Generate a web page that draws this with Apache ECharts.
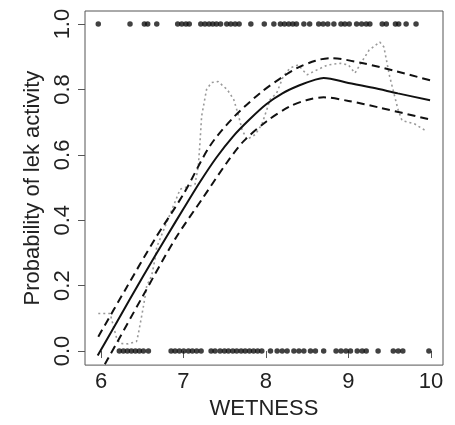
<!DOCTYPE html>
<html>
<head>
<meta charset="utf-8">
<script src="https://cdn.jsdelivr.net/npm/echarts@6/dist/echarts.min.js"></script>
<style>
html,body{margin:0;padding:0;background:#fff;}
#c{width:455px;height:425px;}
</style>
</head>
<body>
<div id="c"></div>
<script>
// Observed WETNESS values of active leks (y = 1)
var activeX = [5.967, 6.352, 6.526, 6.566, 6.676, 6.93, 6.98, 7.03, 7.07, 7.21, 7.26, 7.31, 7.355, 7.40, 7.45,
  7.525, 7.574, 7.626, 7.675, 7.817, 7.98, 8.096, 8.176, 8.225, 8.277, 8.326, 8.37, 8.46, 8.53, 8.64, 8.694,
  8.75, 8.824, 8.91, 8.957, 9.01, 9.10, 9.16, 9.216, 9.26, 9.41, 9.46, 9.57, 9.61, 9.70, 9.82];
// Observed WETNESS values of inactive leks (y = 0)
var inactiveX = [6.222, 6.271, 6.32, 6.368, 6.417, 6.465, 6.514, 6.575, 6.85, 6.898, 6.95, 7.003, 7.06, 7.108,
  7.16, 7.214, 7.335, 7.383, 7.444, 7.497, 7.545, 7.598, 7.646, 7.699, 7.748, 7.80, 7.85, 7.90, 7.95, 8.055,
  8.136, 8.197, 8.257, 8.339, 8.40, 8.46, 8.54, 8.60, 8.70, 8.85, 8.91, 8.97, 9.025, 9.107, 9.167, 9.216,
  9.36, 9.544, 9.604, 9.66, 9.976];
// Fitted probability curve
var fitX = [5.96, 6.2, 6.5, 6.8, 7.0, 7.2, 7.4, 7.6, 7.8, 8.0, 8.2, 8.4, 8.6, 8.7, 9.0, 9.3, 9.6, 9.99];
var fitY = [-0.014, 0.092, 0.224, 0.352, 0.435, 0.517, 0.592, 0.656, 0.708, 0.754, 0.788, 0.812, 0.830, 0.835, 0.820, 0.805, 0.788, 0.767];
// Upper confidence band
var upX = [5.967, 6.3, 6.655, 7.0, 7.32, 7.6, 7.93, 8.21, 8.375, 8.6, 8.78, 9.18, 9.59, 9.99];
var upY = [0.044, 0.19, 0.343, 0.48, 0.627, 0.713, 0.789, 0.84, 0.865, 0.888, 0.896, 0.88, 0.855, 0.828];
// Lower confidence band
var loX = [5.967, 6.07, 6.5, 6.9, 7.24, 7.525, 7.73, 8.01, 8.29, 8.5, 8.7, 9.0, 9.386, 9.99];
var loY = [-0.075, -0.03, 0.165, 0.343, 0.47, 0.576, 0.642, 0.703, 0.748, 0.768, 0.776, 0.765, 0.744, 0.708];
// Smoothed raw proportion (dotted grey)
var rawX = [5.967, 6.11, 6.19, 6.23, 6.33, 6.43, 6.45, 6.51, 6.53, 6.555, 6.615, 6.655, 6.676, 6.96, 7.14, 7.18,
  7.20, 7.22, 7.28, 7.34, 7.42, 7.53, 7.61, 7.67, 7.71, 7.77, 7.87, 7.95, 8.01, 8.05, 8.13, 8.21, 8.29, 8.39,
  8.50, 8.62, 8.75, 8.9, 9.0, 9.08, 9.15, 9.25, 9.38, 9.43, 9.5, 9.6, 9.65, 9.8, 9.95];
var rawY = [0.115, 0.115, 0.039, 0.023, 0.022, 0.029, 0.049, 0.13, 0.16, 0.2, 0.231, 0.282, 0.318, 0.495, 0.51, 0.566,
  0.637, 0.718, 0.80, 0.821, 0.824, 0.80, 0.769, 0.718, 0.677, 0.647, 0.662, 0.693, 0.738, 0.769, 0.789, 0.84, 0.865, 0.875,
  0.845, 0.86, 0.875, 0.88, 0.875, 0.85, 0.88, 0.92, 0.945, 0.93, 0.84, 0.74, 0.705, 0.695, 0.672];
// Tick labels
var xTicks = [6, 7, 8, 9, 10];
var yTicks = [0, 0.2, 0.4, 0.6, 0.8, 1.0];

function pairs(xs, ys) { return xs.map(function (x, i) { return [x, ys[i]]; }); }

var FONT = 'Liberation Sans, Arial, sans-serif';
var chart = echarts.init(document.getElementById('c'), null, { renderer: 'canvas' });
chart.setOption({
  animation: false,
  backgroundColor: '#fff',
  grid: { left: 85, right: 12, top: 11, bottom: 58, show: true, borderColor: '#555', borderWidth: 1, backgroundColor: 'transparent' },
  xAxis: {
    type: 'value', min: 5.806, max: 10.147,
    name: 'WETNESS', nameLocation: 'middle', nameGap: 32,
    nameTextStyle: { fontFamily: FONT, fontSize: 22, color: '#222' },
    axisLine: { show: false },
    splitLine: { show: false },
    axisTick: { show: true, inside: false, length: 7, customValues: xTicks, lineStyle: { color: '#555', width: 1 } },
    axisLabel: { show: true, margin: 6, customValues: xTicks, fontFamily: FONT, fontSize: 22, color: '#222',
      formatter: function (v) { return String(v); } }
  },
  yAxis: {
    type: 'value', min: -0.043, max: 1.04,
    name: 'Probability of lek activity', nameLocation: 'middle', nameGap: 40, nameRotate: 90,
    nameTextStyle: { fontFamily: FONT, fontSize: 22, color: '#222' },
    axisLine: { show: false },
    splitLine: { show: false },
    axisTick: { show: true, inside: false, length: 7, customValues: yTicks, lineStyle: { color: '#555', width: 1 } },
    axisLabel: { show: true, margin: 11, rotate: 90, customValues: yTicks, fontFamily: FONT, fontSize: 22, color: '#222',
      formatter: function (v) { return v.toFixed(1); } }
  },
  series: [
    { type: 'line', data: pairs(rawX, rawY), showSymbol: false, smooth: false, clip: true,
      lineStyle: { color: '#999', width: 1.6, type: [2, 3] }, z: 2 },
    { type: 'line', data: pairs(upX, upY), showSymbol: false, smooth: 0.3, clip: true,
      lineStyle: { color: '#111', width: 2, type: [8, 5] }, z: 3 },
    { type: 'line', data: pairs(loX, loY), showSymbol: false, smooth: 0.3, clip: true,
      lineStyle: { color: '#111', width: 2, type: [8, 5] }, z: 3 },
    { type: 'line', data: pairs(fitX, fitY), showSymbol: false, smooth: 0.3, clip: true,
      lineStyle: { color: '#111', width: 2 }, z: 4 },
    { type: 'scatter', data: activeX.map(function (x) { return [x, 1]; }), symbol: 'circle', symbolSize: 5.5,
      itemStyle: { color: '#111' }, z: 5 },
    { type: 'scatter', data: inactiveX.map(function (x) { return [x, 0]; }), symbol: 'circle', symbolSize: 5.5,
      itemStyle: { color: '#111' }, z: 5 }
  ]
});
</script>
</body>
</html>
